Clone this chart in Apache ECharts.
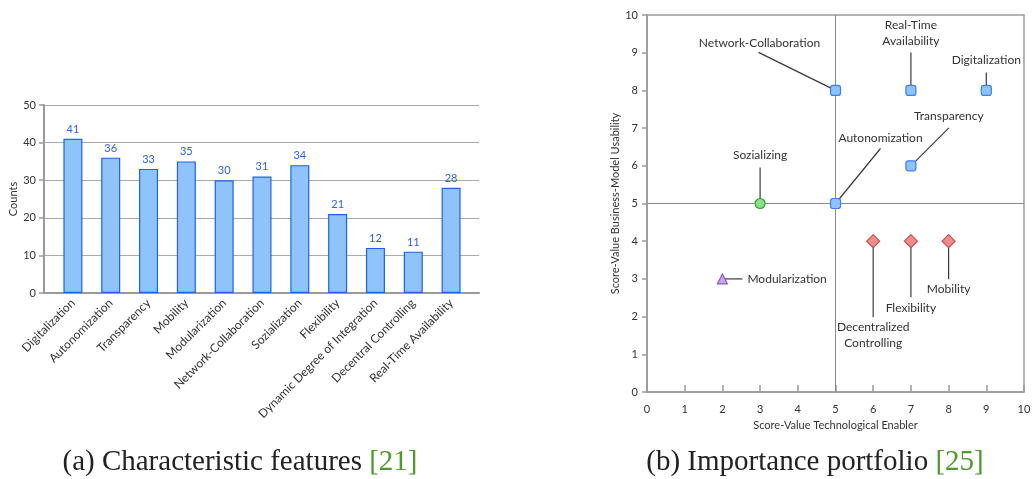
<!DOCTYPE html>
<html lang="en">
  <head>
    <meta charset="UTF-8" />
    <title>Characteristic features / Importance portfolio</title>
    <script src="https://cdn.jsdelivr.net/npm/echarts@6/dist/echarts.min.js"></script>
    <style>
      body { margin: 0; background: #fff; }
    </style>
  </head>
  <body>
    <div id="main" style="width: 1034px; height: 479px"></div>
    <script type="text/javascript">
      // (a) characteristic features
      const features = [
        "Digitalization", "Autonomization", "Transparency", "Mobility",
        "Modularization", "Network-Collaboration", "Sozialization", "Flexibility",
        "Dynamic Degree of Integration", "Decentral Controlling", "Real-Time Availability",
      ];
      const counts = [41, 36, 33, 35, 30, 31, 34, 21, 12, 11, 28];
      const countTicks = [0, 10, 20, 30, 40, 50];

      // (b) importance portfolio
      const enablers = [
        "Network-Collaboration", "Real-Time\nAvailability", "Digitalization", "Transparency",
        "Autonomization", "Sozializing", "Modularization", "Decentralized\nControlling",
        "Flexibility", "Mobility",
      ];
      const techScore = [5, 7, 9, 7, 5, 3, 2, 6, 7, 8];
      const bizScore = [8, 8, 8, 6, 5, 5, 3, 4, 4, 4];
      const groupOf = ["blue", "blue", "blue", "blue", "blue", "green", "purple", "red", "red", "red"];

      const FONT = "Lato";
      const markerStyle = {
        blue: { symbol: "roundRect", size: 10, fill: "#8ec3fa", stroke: "#3b7ff0" },
        green: { symbol: "circle", size: 10, fill: "#86e486", stroke: "#3c9a3c" },
        purple: { symbol: "triangle", size: 10, fill: "#c9a6f2", stroke: "#8a5cc8" },
        red: { symbol: "diamond", size: 13, fill: "#f28c8c", stroke: "#c85050" },
      };
      // connector end and label centre, px relative to the marker
      const annot = [
        { line: [-77, -38], text: [-76, -47] },
        { line: [0, -38], text: [0, -57] },
        { line: [0, -18], text: [0, -30] },
        { line: [38, -38], text: [38, -50] },
        { line: [45, -55], text: [45, -65] },
        { line: [0, -36], text: [0, -48] },
        { line: [20, 0], text: [25, 0], align: "left" },
        { line: [0, 76], text: [0, 94] },
        { line: [0, 56], text: [0, 67] },
        { line: [0, 38], text: [0, 48] },
      ];

      const axisTxt = { color: "#333", fontFamily: FONT, fontSize: 11 };
      const grey = "#9a9a9a";
      const captionFont = "29px 'Liberation Serif'";

      const scatterSeries = Object.keys(markerStyle).map((g) => ({
        type: "scatter",
        xAxisIndex: 2,
        yAxisIndex: 2,
        z: 5,
        symbol: markerStyle[g].symbol,
        symbolSize: markerStyle[g].size,
        itemStyle: { color: markerStyle[g].fill, borderColor: markerStyle[g].stroke, borderWidth: 1.2, opacity: 1 },
        data: techScore.map((x, i) => (groupOf[i] === g ? [x, bizScore[i]] : null)).filter((d) => d),
      }));

      const options = {
        animation: false,
        grid: [
          { left: 44, top: 105, width: 435, height: 188 },
          { left: 54, top: 105, width: 416, height: 188 },
          { left: 647, top: 15, width: 377, height: 377, show: true, borderColor: grey, borderWidth: 1.5 },
        ],
        xAxis: [
          {
            gridIndex: 0, type: "value", min: 0, max: 1,
            axisLine: { show: true, lineStyle: { color: grey, width: 2 } },
            axisTick: { show: false }, axisLabel: { show: false }, splitLine: { show: false },
          },
          {
            gridIndex: 1, type: "category", data: features,
            axisLine: { show: false }, axisTick: { show: false },
            axisLabel: { ...axisTxt, fontSize: 12, rotate: 45, interval: 0, margin: 8 },
          },
          {
            gridIndex: 2, type: "value", min: 0, max: 10, interval: 1,
            axisLine: { show: true, lineStyle: { color: grey, width: 1.5 } },
            axisTick: { show: true, inside: true, length: 7, lineStyle: { color: grey, width: 1.5 } },
            axisLabel: { ...axisTxt, margin: 12 },
            splitLine: { show: false },
            name: "Score-Value Technological Enabler", nameLocation: "middle", nameGap: 25,
            nameTextStyle: axisTxt,
          },
        ],
        yAxis: [
          {
            gridIndex: 0, type: "value", min: 0, max: 50, interval: 10,
            axisLine: { show: true, lineStyle: { color: grey, width: 2 } },
            axisTick: { show: true, length: 5, lineStyle: { color: grey, width: 1.5 } },
            axisLabel: { ...axisTxt, margin: 8, formatter: (v) => (countTicks.includes(v) ? v : "") },
            splitLine: { lineStyle: { color: "#aaa", width: 1 } },
            name: "Counts", nameLocation: "middle", nameGap: 24, nameTextStyle: axisTxt,
          },
          { gridIndex: 1, type: "value", min: 0, max: 50, show: false },
          {
            gridIndex: 2, type: "value", min: 0, max: 10, interval: 1,
            axisLine: { show: true, lineStyle: { color: grey, width: 1.5 } },
            axisTick: { show: true, length: 5, lineStyle: { color: grey, width: 1.5 } },
            axisLabel: { ...axisTxt, margin: 9 },
            splitLine: { show: false },
            name: "Score-Value Business-Model Usability", nameLocation: "middle", nameGap: 22,
            nameTextStyle: axisTxt,
          },
        ],
        series: [
          {
            type: "bar", xAxisIndex: 1, yAxisIndex: 1, data: counts, barWidth: 19,
            itemStyle: { color: "#8ec4f9", borderColor: "#2160ee", borderWidth: 1.2 },
            label: { show: true, position: "top", distance: 4, color: "#2c63e6", fontFamily: FONT, fontSize: 11 },
          },
          {
            type: "scatter", xAxisIndex: 2, yAxisIndex: 2, data: [], symbolSize: 0,
            markLine: {
              silent: true, symbol: "none", label: { show: false },
              lineStyle: { color: "#8a8a8a", width: 1, type: "solid" },
              data: [{ xAxis: 5 }, { yAxis: 5 }],
            },
          },
          {
            type: "custom", xAxisIndex: 2, yAxisIndex: 2, z: 3,
            data: techScore.map((x, i) => [x, bizScore[i]]),
            renderItem: (params, api) => {
              const i = params.dataIndex;
              const p = api.coord([api.value(0), api.value(1)]);
              const a = annot[i];
              return {
                type: "group",
                children: [
                  {
                    type: "line",
                    shape: { x1: p[0], y1: p[1], x2: p[0] + a.line[0], y2: p[1] + a.line[1] },
                    style: { stroke: "#3a3a3a", lineWidth: 1.2 },
                  },
                  {
                    type: "text",
                    x: p[0] + a.text[0], y: p[1] + a.text[1],
                    style: {
                      text: enablers[i], align: a.align || "center", verticalAlign: "middle",
                      fill: "#333", font: "12px " + FONT, lineHeight: 16,
                    },
                  },
                ],
              };
            },
          },
          ...scatterSeries,
        ],
        graphic: [
          {
            type: "text", x: 240, y: 462,
            style: {
              text: "(a) Characteristic features {g|[21]}",
              font: captionFont, fill: "#222", align: "center", verticalAlign: "middle",
              rich: { g: { fill: "#4f9a2a", font: captionFont } },
            },
          },
          {
            type: "text", x: 815, y: 462,
            style: {
              text: "(b) Importance portfolio {g|[25]}",
              font: captionFont, fill: "#222", align: "center", verticalAlign: "middle",
              rich: { g: { fill: "#4f9a2a", font: captionFont } },
            },
          },
        ],
      };

      let myChart = echarts.init(document.getElementById("main"));
      myChart.setOption(options);
    </script>
  </body>
</html>
